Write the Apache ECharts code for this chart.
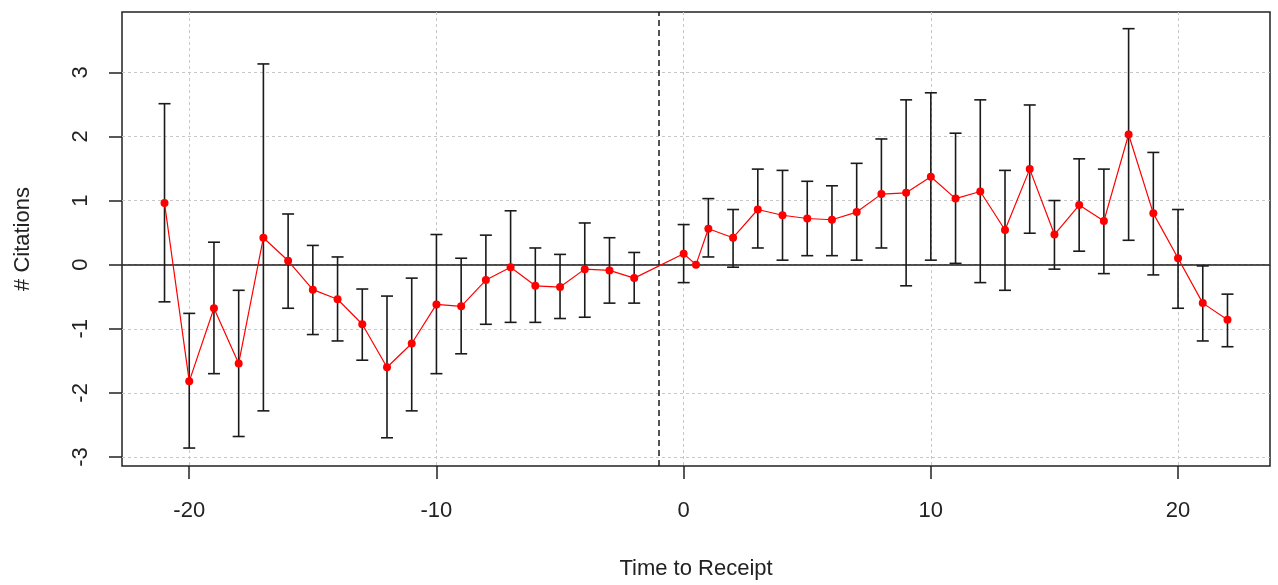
<!DOCTYPE html>
<html>
<head>
<meta charset="utf-8">
<script src="https://cdn.jsdelivr.net/npm/echarts@6/dist/echarts.min.js"></script>
<style>
  html, body { margin: 0; padding: 0; background: #fff; overflow: hidden; }
  #chart { width: 100vw; height: 100vh; }
</style>
</head>
<body>
<div id="chart"></div>
<script>
// event-time coefficients with confidence bounds
const times = [-21, -20, -19, -18, -17, -16, -15, -14, -13, -12, -11, -10, -9, -8, -7, -6, -5, -4, -3, -2,
  0, 0.5, 1, 2, 3, 4, 5, 6, 7, 8, 9, 10, 11, 12, 13, 14, 15, 16, 17, 18, 19, 20, 21, 22];
const coef = [0.96, -1.82, -0.68, -1.54, 0.42, 0.06, -0.39, -0.54, -0.93, -1.60, -1.23, -0.62, -0.65, -0.24, -0.04, -0.33, -0.35, -0.07, -0.09, -0.21,
  0.17, 0.0, 0.56, 0.42, 0.86, 0.77, 0.72, 0.70, 0.82, 1.10, 1.12, 1.37, 1.03, 1.14, 0.54, 1.49, 0.47, 0.93, 0.68, 2.03, 0.80, 0.10, -0.60, -0.86];
const lower = [-0.58, -2.86, -1.70, -2.68, -2.28, -0.68, -1.09, -1.19, -1.49, -2.70, -2.28, -1.70, -1.39, -0.93, -0.90, -0.90, -0.84, -0.82, -0.60, -0.60,
  -0.28, null, 0.12, -0.04, 0.26, 0.07, 0.14, 0.14, 0.07, 0.26, -0.33, 0.07, 0.02, -0.28, -0.40, 0.49, -0.07, 0.21, -0.14, 0.38, -0.16, -0.68, -1.19, -1.28];
const upper = [2.51, -0.76, 0.35, -0.40, 3.13, 0.79, 0.30, 0.12, -0.38, -0.49, -0.21, 0.47, 0.10, 0.46, 0.84, 0.26, 0.16, 0.65, 0.42, 0.19,
  0.625, null, 1.03, 0.86, 1.49, 1.47, 1.30, 1.23, 1.58, 1.96, 2.57, 2.68, 2.05, 2.57, 1.47, 2.49, 1.00, 1.65, 1.49, 3.68, 1.75, 0.86, -0.02, -0.46];

const xTicks = [-20, -10, 0, 10, 20];
const yTicks = [-3, -2, -1, 0, 1, 2, 3];
const refTime = -1;

const font = 'Liberation Sans, Arial, sans-serif';

const chart = echarts.init(document.getElementById('chart'));

const points = times.map((t, i) => [t, coef[i]]);
const bars = [];
times.forEach((t, i) => {
  if (lower[i] != null && upper[i] != null) bars.push([t, lower[i], upper[i]]);
});

const gridLine = { show: true, lineStyle: { color: '#c8c8c8', type: [3, 3], width: 1 } };

const option = {
  animation: false,
  grid: {
    left: 122, right: 8, top: 12, bottom: 113,
    show: true, borderColor: '#222', borderWidth: 1.5, backgroundColor: 'transparent'
  },
  xAxis: {
    type: 'value',
    min: -22.72, max: 23.72,
    name: 'Time to Receipt',
    nameLocation: 'middle',
    nameGap: 92,
    nameTextStyle: { fontFamily: font, fontSize: 22, color: '#222' },
    axisLine: { show: false, onZero: false },
    axisTick: { show: true, length: 13, customValues: xTicks, lineStyle: { color: '#222', width: 1.5 } },
    axisLabel: { customValues: xTicks, margin: 34, fontFamily: font, fontSize: 22, color: '#222' },
    splitLine: gridLine
  },
  yAxis: {
    type: 'value',
    min: -3.14, max: 3.94,
    name: '# Citations',
    nameLocation: 'middle',
    nameRotate: 90,
    nameGap: 88,
    nameTextStyle: { fontFamily: font, fontSize: 22, color: '#222' },
    axisLine: { show: false, onZero: false },
    axisTick: { show: true, length: 13, customValues: yTicks, lineStyle: { color: '#222', width: 1.5 } },
    axisLabel: { customValues: yTicks, rotate: 90, margin: 30, fontFamily: font, fontSize: 22, color: '#222' },
    splitLine: gridLine
  },
  series: [
    {
      type: 'custom',
      z: 2,
      data: bars,
      renderItem: function (params, api) {
        const x = api.value(0);
        const top = api.coord([x, api.value(2)]);
        const bot = api.coord([x, api.value(1)]);
        const w = 6;
        const style = { stroke: '#1a1a1a', lineWidth: 1.6 };
        return {
          type: 'group',
          children: [
            { type: 'line', shape: { x1: top[0], y1: top[1], x2: bot[0], y2: bot[1] }, style: style },
            { type: 'line', shape: { x1: top[0] - w, y1: top[1], x2: top[0] + w, y2: top[1] }, style: style },
            { type: 'line', shape: { x1: bot[0] - w, y1: bot[1], x2: bot[0] + w, y2: bot[1] }, style: style }
          ]
        };
      },
      markLine: {
        silent: true,
        symbol: 'none',
        label: { show: false },
        data: [
          { yAxis: 0, lineStyle: { color: '#1a1a1a', type: 'solid', width: 1.5 } },
          { xAxis: refTime, lineStyle: { color: '#1a1a1a', type: [6, 4], width: 1.5 } }
        ]
      }
    },
    {
      type: 'line',
      z: 5,
      data: points,
      symbol: 'circle',
      symbolSize: 8,
      lineStyle: { color: '#ff0000', width: 1.2 },
      itemStyle: { color: '#ff0000' }
    }
  ]
};

chart.setOption(option);
</script>
</body>
</html>
